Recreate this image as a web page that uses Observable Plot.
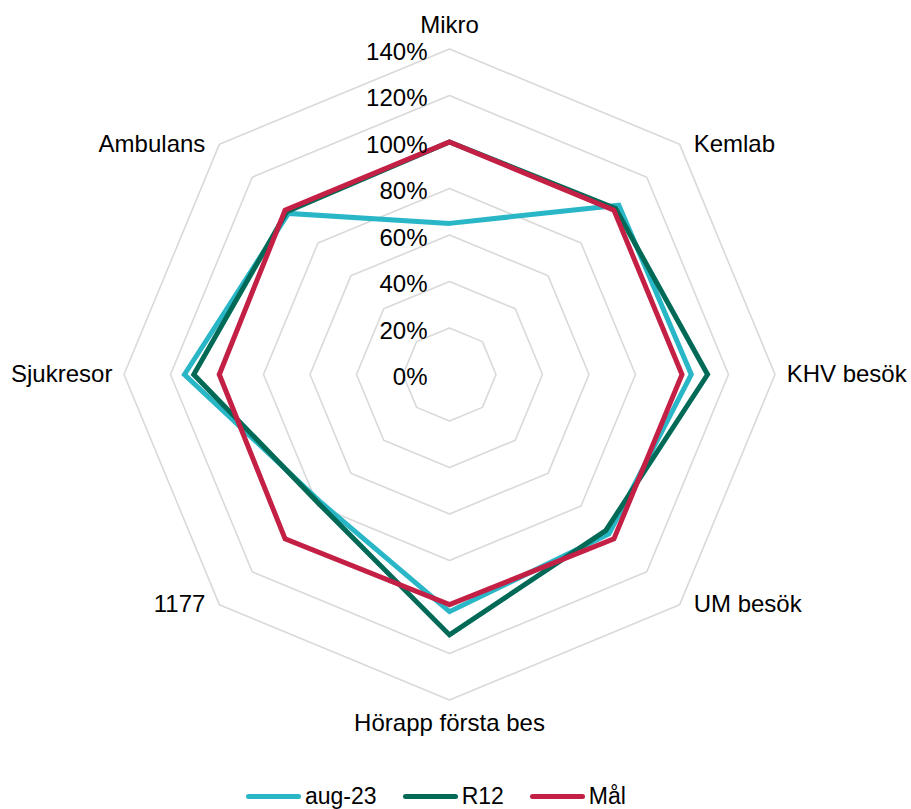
<!DOCTYPE html>
<html>
<head>
<meta charset="utf-8">
<script src="https://cdn.jsdelivr.net/npm/d3@7"></script>
<script src="https://cdn.jsdelivr.net/npm/@observablehq/plot@0.6"></script>
<style>
  html, body { margin: 0; padding: 0; background: #fff; }
  #wrap { position: relative; width: 911px; height: 809px; font-family: "Liberation Sans", Arial, sans-serif; }
  #legend { position: absolute; left: 246px; top: 782px; height: 28px; display: flex; align-items: center; font-size: 23px; line-height: 26px; color: #000; }
  .item { display: flex; align-items: center; margin-right: 26px; }
  .sw { width: 55px; height: 5px; border-radius: 2.5px; margin-right: 4px; }
</style>
</head>
<body>
<div id="wrap"><div id="chart"></div><div id="legend"></div></div>
<script>
// ---- data ----
const categories = ["Mikro", "Kemlab", "KHV besök", "UM besök", "Hörapp första bes", "1177", "Sjukresor", "Ambulans"];
const aug23 = [65, 103, 104, 97, 102, 78, 114, 98];
const r12   = [100, 101, 111, 95, 112, 79, 110, 99];
const mal   = [100, 100, 100, 100, 99, 100, 99, 100];
const ringTicks = [0, 20, 40, 60, 80, 100, 120, 140];
const seriesNames = ["aug-23", "R12", "Mål"];
const seriesColors = ["#29b6c7", "#006a57", "#c41f45"];

// ---- build ----
const W = 911, H = 780, CX = 449, CY = 374, K = 2.325; // px per percent
const n = categories.length;
const ang = i => (i / n) * 2 * Math.PI;
const px = (i, v) => v * Math.sin(ang(i));
const py = (i, v) => v * Math.cos(ang(i));

const seriesVals = [aug23, r12, mal];
const pts = [];
seriesVals.forEach((vals, s) => vals.forEach((v, i) => pts.push({series: seriesNames[s], i, v})));

const grid = [];
ringTicks.filter(t => t > 0).forEach(t => categories.forEach((c, i) => grid.push({t, i})));

const labels = categories.map((c, i) => {
  const s = Math.round(Math.sin(ang(i)) * 1000) / 1000, co = Math.round(Math.cos(ang(i)) * 1000) / 1000;
  const diag = s !== 0 && co !== 0;
  const lx = 145 * s + (diag ? 2.5 * Math.sign(s) : 0);
  const ly = 145 * co + (s === 0 ? 5 * Math.sign(co) : 0) - (diag ? 3.5 * Math.sign(co) : 0);
  return {c, lx, ly, anchor: s > 0 ? "start" : s < 0 ? "end" : "middle"};
});

const tickData = ringTicks.map(t => ({t, label: t + "%"}));

const chart = Plot.plot({
  width: W, height: H,
  marginLeft: 0, marginRight: 0, marginTop: 0, marginBottom: 0,
  x: {domain: [-CX / K, (W - CX) / K], axis: null},
  y: {domain: [(CY - H) / K, CY / K], axis: null},
  style: {fontFamily: "'Liberation Sans', Arial, sans-serif", background: "#fff"},
  marks: [
    Plot.line(grid, {x: d => px(d.i, d.t), y: d => py(d.i, d.t), z: "t", curve: "linear-closed", stroke: "#d9d9d9", strokeWidth: 1.6}),
    Plot.line(pts, {x: d => px(d.i, d.v), y: d => py(d.i, d.v), z: "series", stroke: d => d.series, curve: "linear-closed", strokeWidth: 5, strokeLinejoin: "miter", strokeMiterlimit: 10}),
    Plot.text(tickData, {x: 0, y: "t", text: "label", textAnchor: "end", dx: -22, dy: 3, fontSize: 24, fill: "#000"}),
    Plot.text(labels.filter(d => d.anchor === "start"), {x: "lx", y: "ly", text: "c", textAnchor: "start", fontSize: 24, fill: "#000"}),
    Plot.text(labels.filter(d => d.anchor === "end"), {x: "lx", y: "ly", text: "c", textAnchor: "end", fontSize: 24, fill: "#000"}),
    Plot.text(labels.filter(d => d.anchor === "middle"), {x: "lx", y: "ly", text: "c", textAnchor: "middle", fontSize: 24, fill: "#000"})
  ],
  color: {domain: seriesNames, range: seriesColors}
});
document.getElementById("chart").appendChild(chart);

const leg = document.getElementById("legend");
seriesNames.forEach((nm, s) => {
  const it = document.createElement("div"); it.className = "item";
  const sw = document.createElement("div"); sw.className = "sw"; sw.style.background = seriesColors[s];
  const tx = document.createElement("span"); tx.textContent = nm;
  it.appendChild(sw); it.appendChild(tx); leg.appendChild(it);
});
</script>
</body>
</html>
